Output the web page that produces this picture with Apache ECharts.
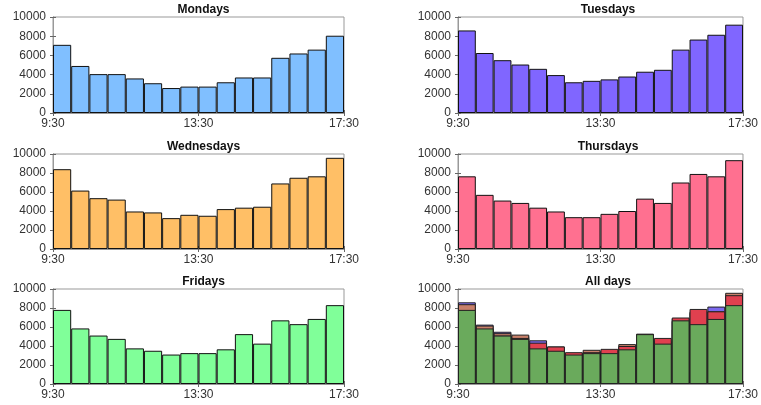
<!DOCTYPE html>
<html>
<head>
<meta charset="utf-8">
<script src="https://cdn.jsdelivr.net/npm/echarts@6/dist/echarts.min.js"></script>
<style>html,body{margin:0;padding:0;background:#fff}#c{width:761px;height:405px}</style>
</head>
<body>
<div id="c"></div>
<script>
const bins = ['9:30','10:00','10:30','11:00','11:30','12:00','12:30','13:00','13:30','14:00','14:30','15:00','15:30','16:00','16:30','17:00'];
const tickLabels = ['9:30','13:30','17:30'];
const yTicks = [0, 2000, 4000, 6000, 8000, 10000];
const titles = ['Mondays','Tuesdays','Wednesdays','Thursdays','Fridays','All days'];
const mondays    = [7100,4900,4050,4050,3600,3100,2600,2750,2750,3200,3700,3700,5750,6200,6600,8050];
const tuesdays   = [8600,6250,5500,5050,4600,3950,3200,3350,3500,3800,4300,4500,6600,7650,8150,9200];
const wednesdays = [8400,6150,5350,5200,3950,3850,3250,3600,3500,4200,4350,4450,6900,7500,7650,9600];
const thursdays  = [7650,5700,5100,4850,4350,3950,3350,3350,3700,4000,5300,4850,7000,7900,7650,9350];
const fridays    = [7800,5850,5100,4750,3750,3500,3100,3250,3250,3650,5250,4250,6700,6300,6850,8300];
const dayColors = ['#80bfff','#8066ff','#ffbf66','#ff7090','#80ff99'];
const allColors = ['#6a9ad0','#7b68ee','#c8806a','#e0404f','#6aaa5c'];
const days = [mondays, tuesdays, wednesdays, thursdays, fridays];

function toMin(t){ const p = t.split(':'); return (+p[0])*60 + (+p[1]) - 570; }
function pts(vals){ return bins.map((b,i)=>[toMin(b)+15, vals[i]]); }

const gridPos = [
  {left:53, top:17, width:291, height:96},
  {left:458, top:17, width:290, height:96},
  {left:53, top:154, width:291, height:95},
  {left:458, top:154, width:290, height:95},
  {left:53, top:289, width:291, height:95},
  {left:458, top:289, width:290, height:95}
];
const font = 'Liberation Sans, Arial, sans-serif';
const option = {
  animation:false,
  backgroundColor:'#fff',
  title: gridPos.map((g,i)=>({text:titles[i], left:g.left+g.width/2, top:g.top-18, textAlign:'center',
    textStyle:{fontSize:12, fontWeight:'bold', color:'#111', fontFamily:font}})),
  grid: gridPos.map(g=>Object.assign({show:true, borderColor:'#999', borderWidth:1, backgroundColor:'transparent'}, g)),
  xAxis: [], yAxis: [], series: []
};
gridPos.forEach((g,i)=>{
  option.xAxis.push({type:'value', gridIndex:i, min:0, max:480, interval:240, position:'bottom',
    axisLine:{show:true, lineStyle:{color:'#999'}}, axisTick:{inside:true, length:3, lineStyle:{color:'#666'}},
    splitLine:{show:false},
    axisLabel:{color:'#333', fontSize:12, fontFamily:font, margin:5, formatter:v=>tickLabels[Math.round(v/240)]}});
  option.xAxis.push({type:'value', gridIndex:i, min:0, max:480, interval:240, position:'top',
    axisLine:{show:true, lineStyle:{color:'#999'}}, axisTick:{inside:true, length:3, lineStyle:{color:'#666'}},
    splitLine:{show:false}, axisLabel:{show:false}});
  option.yAxis.push({type:'value', gridIndex:i, min:yTicks[0], max:yTicks[yTicks.length-1], interval:2000,
    axisLine:{show:true, lineStyle:{color:'#999'}}, axisTick:{show:true, inside:true, length:3, lineStyle:{color:'#666'}},
    splitLine:{show:false},
    axisLabel:{color:'#333', fontSize:12, fontFamily:font, margin:7, formatter:v=>String(v)}});
  option.yAxis.push({type:'value', gridIndex:i, min:0, max:10000, interval:2000, position:'right',
    axisLine:{show:true, lineStyle:{color:'#999'}}, axisTick:{show:true, inside:true, length:3, lineStyle:{color:'#666'}},
    splitLine:{show:false}, axisLabel:{show:false}});
});
days.forEach((d,i)=>{
  option.series.push({type:'bar', xAxisIndex:2*i, yAxisIndex:2*i, data:pts(d), barWidth:'100%', barGap:'-100%',
    itemStyle:{color:dayColors[i], borderColor:'#111', borderWidth:1}});
});
days.forEach((d,i)=>{
  option.series.push({type:'bar', xAxisIndex:10, yAxisIndex:10, data:pts(d), barWidth:'100%', barGap:'-100%',
    itemStyle:{color:allColors[i], borderColor:'#222', borderWidth:1}});
});
const chart = echarts.init(document.getElementById('c'), null, {renderer:'canvas'});
chart.setOption(option);
</script>
</body>
</html>
